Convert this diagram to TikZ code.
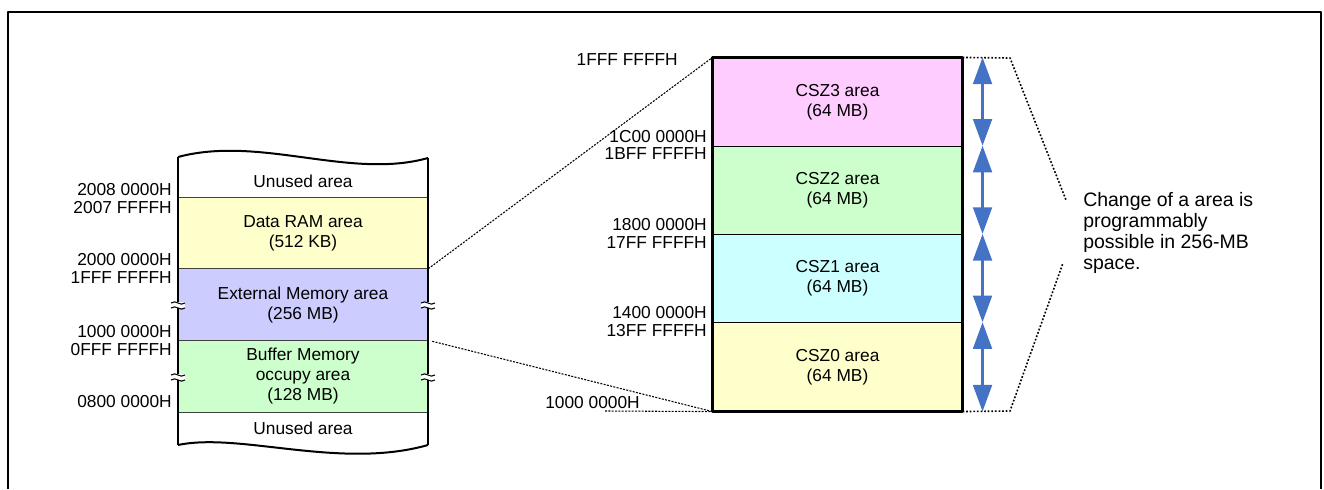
\documentclass[tikz,border=0pt]{standalone}
\usepackage{fontspec}
\setmainfont{Liberation Sans}
\usetikzlibrary{arrows.meta,calc}
\definecolor{RamBg}{HTML}{FFFFCC}
\definecolor{ExtBg}{HTML}{CCCCFF}
\definecolor{BufBg}{HTML}{CCFFCC}
\definecolor{CszThreeBg}{HTML}{FFCCFF}
\definecolor{CszTwoBg}{HTML}{CCFFCC}
\definecolor{CszOneBg}{HTML}{CCFFFF}
\definecolor{CszZeroBg}{HTML}{FFFFCC}
\definecolor{Sep}{HTML}{404040}
\definecolor{SizeArrow}{HTML}{4472C4}
\tikzset{
  addr/.style={anchor=east,inner sep=0pt,font=\fontsize{13}{15}\selectfont},
  row text/.style={align=center,inner sep=0pt,font=\fontsize{13}{15}\selectfont},
  left row/.style={row text,fill=#1,minimum width=187.5pt},
  cs row/.style={row text,fill=#1,draw=black,line width=0.8pt,minimum width=186.75pt,minimum height=66.2pt},
  band line/.style={draw=Sep,line width=1.1pt},
  map side/.style={draw=black,line width=1.5pt},
  map frame/.style={draw=black,line width=1.9pt},
  zoom line/.style={draw=black,line width=0.8pt,dash pattern=on 1.5pt off 1pt},
  bracket line/.style={draw=black,line width=1.2pt,dash pattern=on 1.3pt off 1.4pt},
  size arrow/.style={draw=SizeArrow,line width=2.2pt,{Triangle[length=20pt,width=14pt]}-{Triangle[length=20pt,width=14pt]}},
  note/.style={anchor=north west,inner sep=0pt,align=left,font=\fontsize{14.6}{15.8}\selectfont}
}
\newcommand{\BreakMark}[2]{%
  \fill[white] ({#1-7},{#2-3}) rectangle ({#1+7},{#2+3});
  \draw[black,line width=0.8pt] ({#1-7},{#2-2}) .. controls ({#1-2},{#2-6}) and ({#1+2},{#2+2}) .. ({#1+7},{#2-2});
  \draw[black,line width=0.8pt] ({#1-7},{#2+3}) .. controls ({#1-2},{#2-1}) and ({#1+2},{#2+7}) .. ({#1+7},{#2+3});
}

\begin{document}
\begin{tikzpicture}[x=0.75pt,y=-0.75pt,line join=round]
  \useasboundingbox (0,0) rectangle (1324,489);
  \draw[line width=1.5pt] (8,489) -- (8,12) -- (1321,12) -- (1321,489);

  % Left memory map
  \node[left row=RamBg,minimum height=53.25pt] (ram) at (303,233.5) {Data RAM area\\(512 KB)};
  \node[left row=ExtBg,minimum height=54pt] (ext) at (303,305) {External Memory area\\(256 MB)};
  \node[left row=BufBg,minimum height=53.25pt] (buf) at (303,376.5) {Buffer Memory\\occupy area\\(128 MB)};
  \node[row text] (unusedtop) at (303,181) {Unused area};
  \node[row text] (unusedlow) at (303,428) {Unused area};
  \draw[band line] (ram.north west) -- (ram.north east);
  \draw[band line] (ext.north west) -- (ext.north east);
  \draw[band line] (buf.north west) -- (buf.north east);
  \draw[band line] (buf.south west) -- (buf.south east);
  \draw[map side] (178,157) .. controls (260,135) and (350,180) .. (428,158);
  \draw[map side] (178,445) .. controls (240,432) and (340,470) .. (428,445);
  \draw[map side] (178,157) -- (178,445);
  \draw[map side] (428,158) -- (428,445);
  \BreakMark{178}{305}
  \BreakMark{428}{305}
  \BreakMark{178}{377}
  \BreakMark{428}{377}

  \node[addr] (a2008) at (172,190) {2008 0000H};
  \node[addr] (a2007) at (172,208) {2007 FFFFH};
  \node[addr] (a2000) at (172,260) {2000 0000H};
  \node[addr] (a1fffl) at (172,278) {1FFF FFFFH};
  \node[addr] (a1000l) at (172,332) {1000 0000H};
  \node[addr] (a0fff) at (172,350) {0FFF FFFFH};
  \node[addr] (a0800) at (172,402) {0800 0000H};

  % Right memory map
  \node[cs row=CszThreeBg] (csz3) at (837.5,102.1) {CSZ3 area\\(64 MB)};
  \node[cs row=CszTwoBg] (csz2) at (837.5,190.4) {CSZ2 area\\(64 MB)};
  \node[cs row=CszOneBg] (csz1) at (837.5,278.6) {CSZ1 area\\(64 MB)};
  \node[cs row=CszZeroBg] (csz0) at (837.5,366.9) {CSZ0 area\\(64 MB)};
  \draw[map frame] (csz3.north west) rectangle (csz0.south east);

  \node[addr] (a1fffr) at (678,60) {1FFF FFFFH};
  \node[addr] (a1c00) at (707,137) {1C00 0000H};
  \node[addr] (a1bff) at (707,154) {1BFF FFFFH};
  \node[addr] (a1800) at (707,225) {1800 0000H};
  \node[addr] (a17ff) at (707,243) {17FF FFFFH};
  \node[addr] (a1400) at (707,313) {1400 0000H};
  \node[addr] (a13ff) at (707,331) {13FF FFFFH};
  \node[addr] (a1000r) at (640,403) {1000 0000H};

  % Zoom lines
  \draw[zoom line] (ext.north east) -- (csz3.north west);
  \draw[zoom line] ($(ext.south east)+(4,0)$) -- (csz0.south west);
  \coordinate (lead) at (605,411);
  \draw[zoom line] (lead) -- (csz0.south west);

  % Size arrows
  \coordinate (s3) at ($(csz3.north east)+(20,0)$);
  \coordinate (s2) at ($(csz2.north east)+(20,0)$);
  \coordinate (s1) at ($(csz1.north east)+(20,0)$);
  \coordinate (s0) at ($(csz0.north east)+(20,0)$);
  \coordinate (sb) at ($(csz0.south east)+(20,0)$);
  \draw[size arrow] (s3) -- (s2);
  \draw[size arrow] (s2) -- (s1);
  \draw[size arrow] (s1) -- (s0);
  \draw[size arrow] (s0) -- (sb);

  % Bracket and note
  \coordinate (brtop) at (1010,58);
  \coordinate (brtopend) at (1066,200);
  \coordinate (brbot) at (1010,411);
  \coordinate (brbotend) at (1063,263);
  \draw[bracket line] (csz3.north east) -- (brtop) -- (brtopend);
  \draw[bracket line] (csz0.south east) -- (brbot) -- (brbotend);
  \node[note] (change) at (1083,192) {Change of a area is\\programmably\\possible in 256-MB\\space.};
\end{tikzpicture}
\end{document}
